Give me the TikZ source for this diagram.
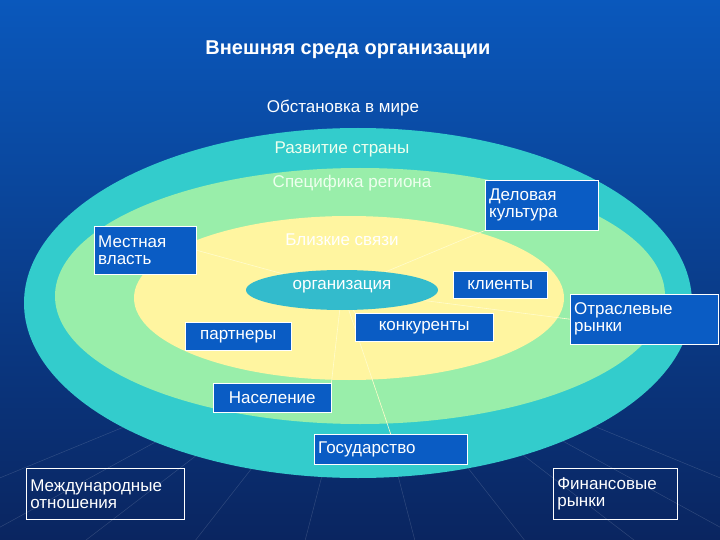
\documentclass[tikz,border=0pt]{standalone}
\usepackage{fontspec}
\setmainfont{Liberation Sans}
\definecolor{bgtop}{HTML}{0A58BC}
\definecolor{bgbot}{HTML}{0A2560}
\definecolor{teal}{HTML}{33CCCC}
\definecolor{lgreen}{HTML}{99EEAA}
\definecolor{lyellow}{HTML}{FFF5A0}
\definecolor{orgc}{HTML}{33BBCC}
\definecolor{boxb}{HTML}{0A5CC4}
\definecolor{pale}{HTML}{EEFFEE}
\pgfdeclarelayer{bg}
\pgfdeclarelayer{links}
\pgfdeclarelayer{orgl}
\pgfsetlayers{bg,links,orgl,main}
\begin{document}
\begin{tikzpicture}[x=1pt,y=-1pt,
  txt/.style={font=\fontsize{17}{19}\selectfont},
  box/.style={txt,draw=white,fill=boxb,text=white,inner sep=4pt,align=left,anchor=north west},
  obox/.style={txt,draw=white,line width=0.6pt,text=white,inner sep=4pt,align=left,anchor=north west},
  lnk/.style={draw=white!80!yellow,line width=0.6pt},
  ring/.style={txt,text=pale}]
\useasboundingbox (0,0) rectangle (720,540);
\begin{pgfonlayer}{bg}
\shade[top color=bgtop,bottom color=bgbot] (0,0) rectangle (720,540);
\begin{scope}
\clip (0,0) rectangle (720,540);
\foreach \x in {-200,-60,60,180,300,420,540,660,780,920}
  \draw[white,opacity=0.15,line width=0.5pt] (360,330) -- (\x,560);
\end{scope}
\fill[teal] (358,303) ellipse [x radius=334,y radius=175];
\fill[lgreen] (360,296) ellipse [x radius=305,y radius=128];
\fill[lyellow] (349,298) ellipse [x radius=215,y radius=82];
\end{pgfonlayer}
\node[text=white,font=\bfseries\fontsize{20}{22}\selectfont] (title) at (348,50) {Внешняя среда организации};
\node[txt,text=white] (world) at (343,108) {Обстановка в мире};
\node[ring] (country) at (342,149) {Развитие страны};
\node[ring] (region) at (352,183) {Специфика региона};
\node[ring,text=white] (close) at (342,240) {Близкие связи};
\node[box,text width=94pt,minimum height=48pt] (mest) at (94,226) {Местная\\[-2pt]власть};
\node[box,text width=105pt,minimum height=50pt] (delo) at (485,180) {Деловая\\[-2pt]культура};
\node[box,minimum width=94pt,minimum height=27pt,align=center] (klient) at (453,271) {клиенты};
\node[box,minimum width=138pt,minimum height=28pt,align=center] (konk) at (355,313) {конкуренты};
\node[box,minimum width=106pt,minimum height=28pt,align=center] (partn) at (185,322) {партнеры};
\node[box,text width=140pt,minimum height=50pt] (otr) at (570,294) {Отраслевые\\[-2pt]рынки};
\node[box,minimum width=118pt,minimum height=29pt,align=center] (nasel) at (213,383) {Население};
\node[box,text width=145pt,minimum height=30pt] (gos) at (314,434) {Государство};
\node[obox,text width=150pt,minimum height=51pt] (mezh) at (26,468) {Международные\\[-2pt]отношения};
\node[obox,text width=116pt,minimum height=51pt] (fin) at (553,468) {Финансовые\\[-2pt]рынки};
\begin{pgfonlayer}{links}
\coordinate (oc) at (342,290);
\path[lnk] (oc) -- (mest.east);
\path[lnk] (oc) -- (delo.south west);
\path[lnk] (oc) -- (otr.west);
\path[lnk] (oc) -- (konk.north west);
\path[lnk] (oc) -- (nasel.north east);
\path[lnk] (oc) -- (gos.north);
\end{pgfonlayer}
\begin{pgfonlayer}{orgl}
\fill[orgc] (342,290) ellipse [x radius=96,y radius=20];
\end{pgfonlayer}
\node[txt,text=white] (org) at (342,287) {организация};
\end{tikzpicture}
\end{document}
